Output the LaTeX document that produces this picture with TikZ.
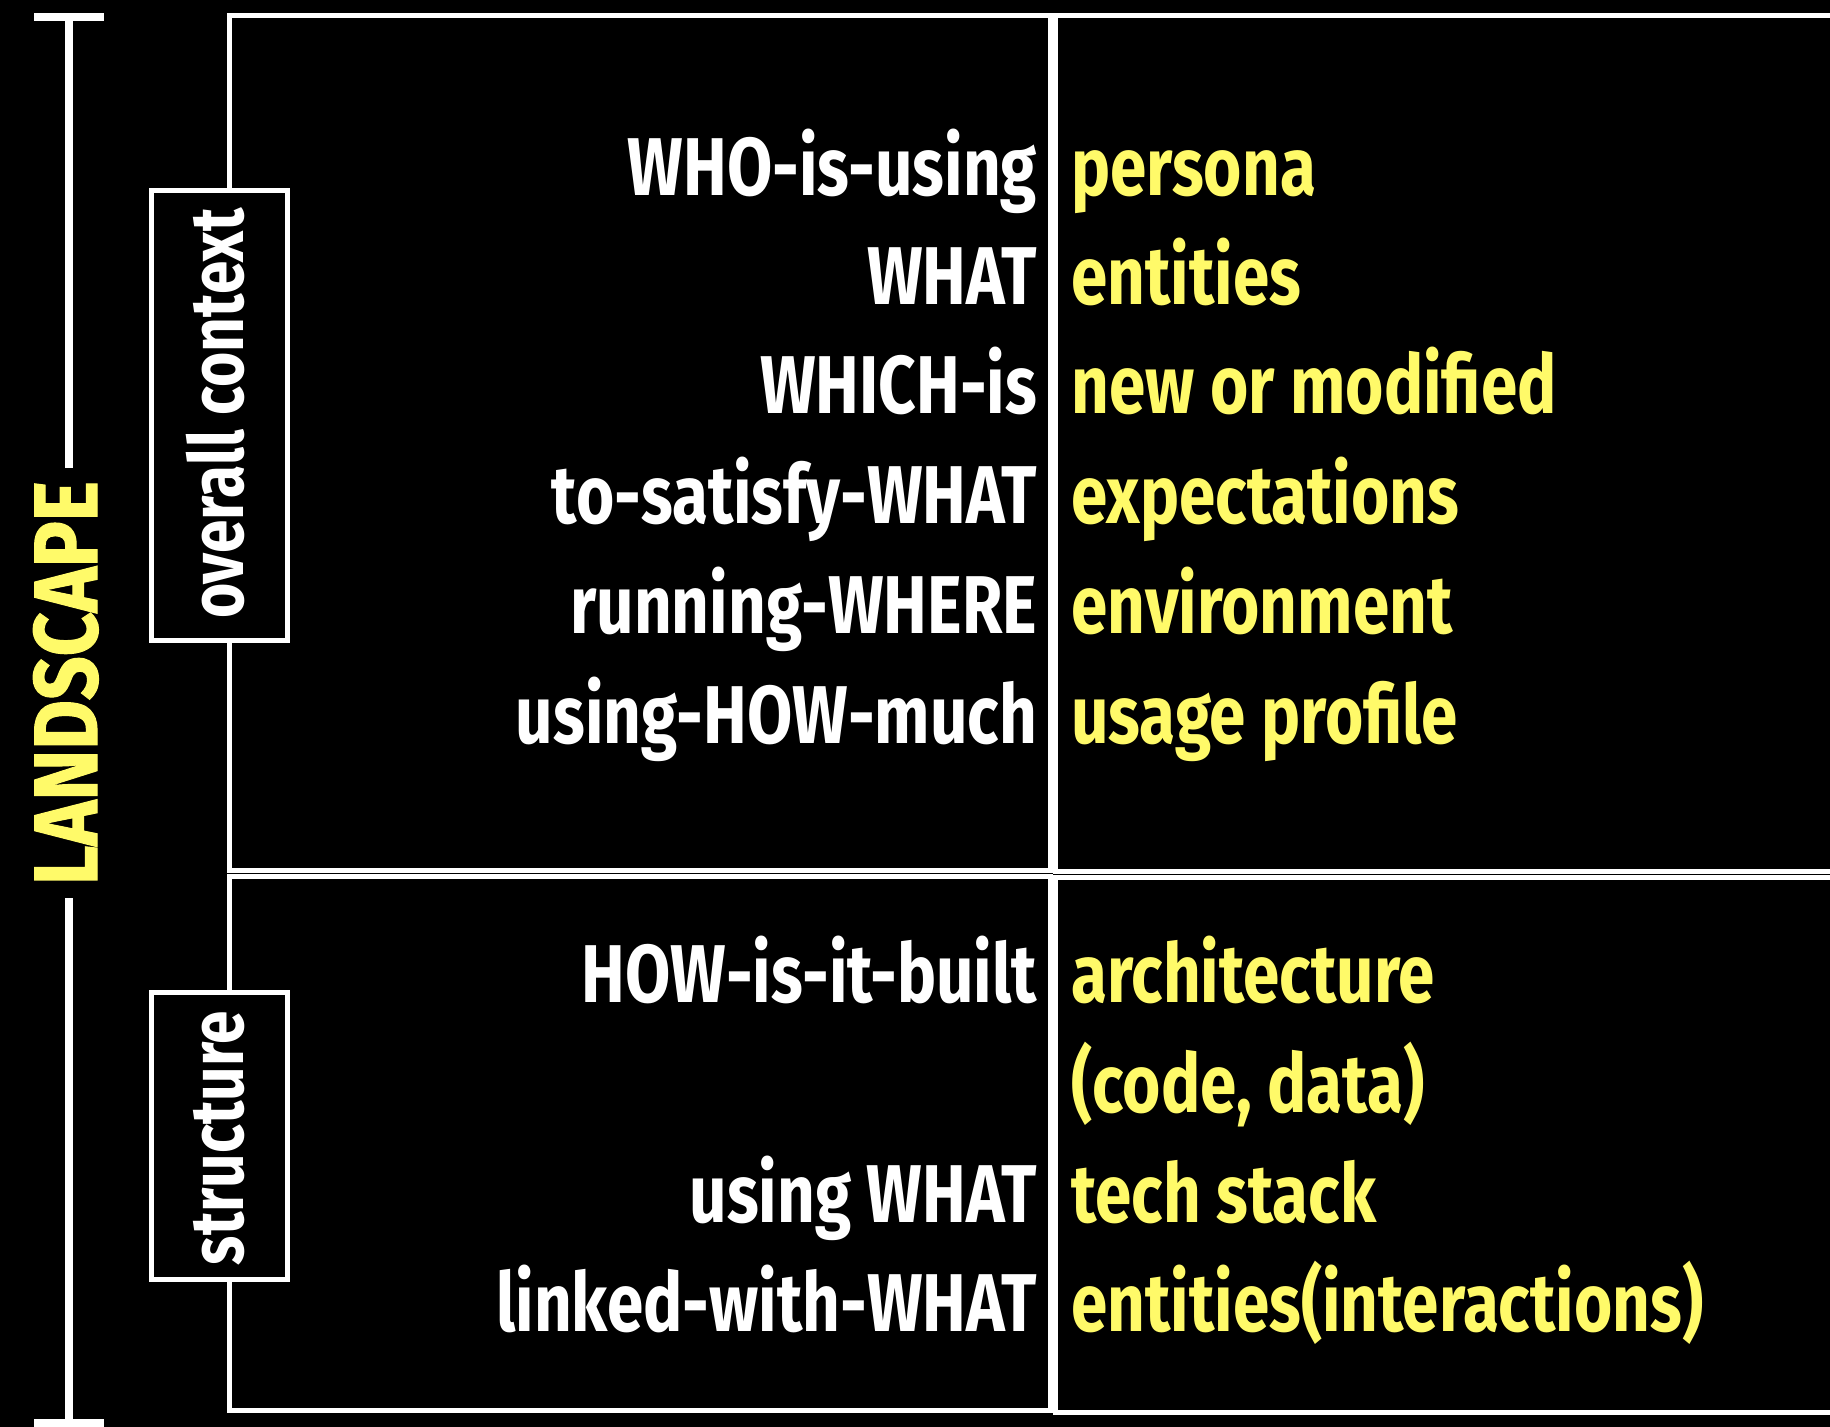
\documentclass[tikz,border=0pt]{standalone}
\usepackage{fontspec}
\newfontfamily\labfont{Fira Sans}[FakeStretch=0.8]
\newfontfamily\headfont{Fira Sans}[FakeStretch=0.85, FakeBold=1.2]
\newcommand\mainlab{\labfont\bfseries\fontsize{41}{41}\selectfont}
\newcommand\taglab{\labfont\bfseries\fontsize{37.8}{38}\selectfont}
\newcommand\biglab{\headfont\bfseries\fontsize{45}{45}\selectfont}
\definecolor{ylw}{RGB}{255,250,105}
\begin{document}
\begin{tikzpicture}[x=0.5pt, y=-0.5pt,
  frame/.style={draw=white, line width=2.5pt},
  lhs/.style={anchor=base east, inner sep=0pt, text=white, font=\mainlab},
  rhs/.style={anchor=base west, inner sep=0pt, text=ylw, font=\mainlab},
  tagbox/.style={draw=white, line width=2.5pt, fill=black, rotate=90, inner sep=0pt, minimum height=68pt},
  tagtext/.style={rotate=90, anchor=base, inner sep=0pt, text=white, font=\taglab},
  bar/.style={draw=white, line width=4pt}]
% canvas
\fill[black] (0,0) rectangle (1830,1427);
\useasboundingbox (0,0) rectangle (1830,1427);
\begin{scope}
\clip (0,0) rectangle (1830,1427);
% the four panels
\draw[frame] (229.5,15.5) rectangle (1050.5,870.8);
\draw[frame] (229.5,876) rectangle (1050.5,1410);
\draw[frame] (1055,15.5) rectangle (1900,871.3);
\draw[frame] (1055,877.5) rectangle (1900,1412);
% landscape bracket
\node[rotate=90, anchor=base, inner sep=0pt, minimum width=215pt, text=ylw, font=\biglab] (land) at (97,683) {LANDSCAPE};
\coordinate (ltop) at (69,17);
\coordinate (lbot) at (69,1423);
\draw[bar] (ltop) -- (ltop |- land.east);
\draw[bar] (lbot) -- (lbot |- land.west);
\draw[bar] ([xshift=-17.5]ltop) -- ([xshift=17.5]ltop);
\draw[bar] ([xshift=-17.5]lbot) -- ([xshift=17.5]lbot);
\end{scope}
% section tags
\node[tagbox, minimum width=225pt] (ctx) at (219.5,415.5) {};
\node[tagtext] (ctxt) at (243,413.5) {overall context};
\node[tagbox, minimum width=143.5pt] (str) at (219.5,1136) {};
\node[tagtext] (strt) at (243,1138) {structure};
% questions and answers
\node[lhs] (who)   at (1037.5,196)  {WHO-is-using};
\node[rhs] (pers)  at (1071,196)  {persona};
\node[lhs] (what)  at (1037.5,305)  {WHAT};
\node[rhs] (ent)   at (1071,305)  {entities};
\node[lhs] (which) at (1037.5,414)  {WHICH-is};
\node[rhs] (newm)  at (1071,414)  {new or modified};
\node[lhs] (sat)   at (1037.5,523.5) {to-satisfy-WHAT};
\node[rhs] (exp)   at (1071,523.5) {expectations};
\node[lhs] (where) at (1037.5,633)  {running-WHERE};
\node[rhs] (env)   at (1071,633)  {environment};
\node[lhs] (much)  at (1037.5,743)  {using-HOW-much};
\node[rhs] (usage) at (1071,743)  {usage profile};
\node[lhs] (built) at (1037.5,1002) {HOW-is-it-built};
\node[rhs] (arch)  at (1071,1002) {architecture};
\node[rhs] (code)  at (1071,1112) {(code, data)};
\node[lhs] (uwhat) at (1037.5,1222) {using WHAT};
\node[rhs] (tech)  at (1071,1222) {tech stack};
\node[lhs] (link)  at (1037.5,1331) {linked-with-WHAT};
\node[rhs] (inter) at (1071,1331) {entities(interactions)};
\end{tikzpicture}
\end{document}
